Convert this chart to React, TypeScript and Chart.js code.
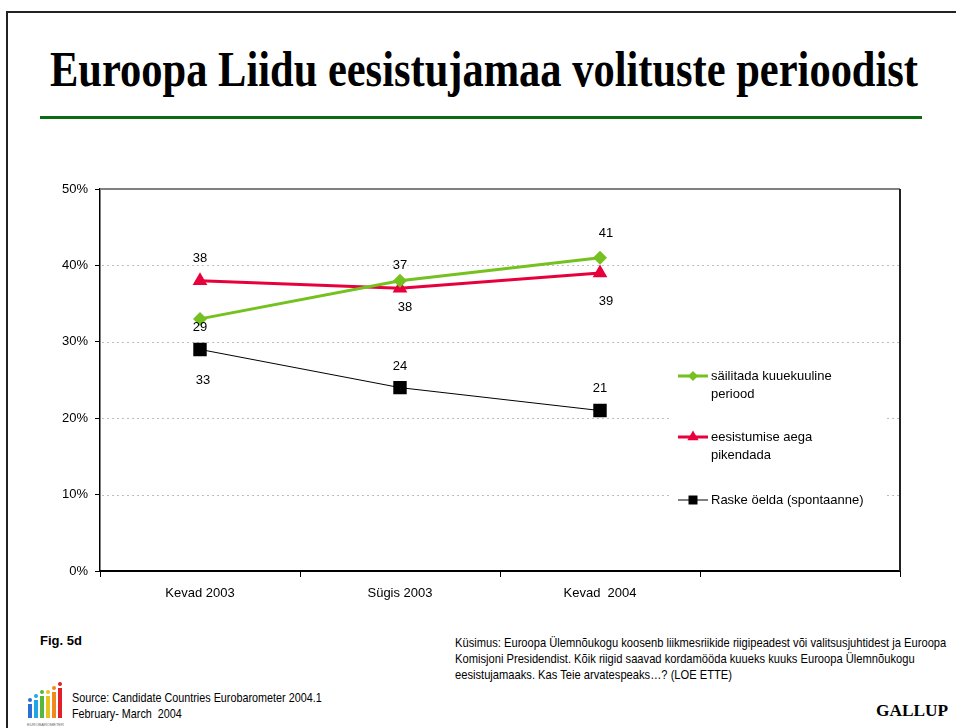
import React, { useEffect, useRef } from "react";
import { Chart, registerables } from "chart.js";

Chart.register(...registerables);

// ---------- data ----------
const categories = ["Kevad 2003", "Sügis 2003", "Kevad  2004", ""];
const keepSixMonths = [33, 38, 41];
const extendPresidency = [38, 37, 39];
const hardToSay = [29, 24, 21];
const keepLabels = ["29", "37", "41"];
const extendLabels = ["38", "38", "39"];
const hardLabels = ["33", "24", "21"];
const keepName = ["säilitada kuuekuuline", "periood"];
const extendName = ["eesistumise aega", "pikendada"];
const hardName = ["Raske öelda (spontaanne)"];
const yMin = 0;
const yMax = 50;
const yStep = 10;

const titleText = "Euroopa Liidu eesistujamaa volituste perioodist";
const questionLines = [
  "Küsimus: Euroopa Ülemnõukogu koosenb liikmesriikide riigipeadest või valitsusjuhtidest ja Euroopa",
  "Komisjoni Presidendist. Kõik riigid saavad kordamööda kuueks kuuks Euroopa Ülemnõukogu",
  "eesistujamaaks. Kas Teie arvatespeaks…? (LOE ETTE)",
];
const sourceLines = ["Source: Candidate Countries Eurobarometer 2004.1", "February- March  2004"];

// ---------- styles ----------
const GREEN = "#74c11f";
const RED = "#e8003d";
const BLACK = "#000000";
const FONT = "'Liberation Sans', Arial, sans-serif";

// label pixel offsets [dx, dy] per point
const labelOffsets = [
  [[0, 9], [0, -15], [6, -24]],
  [[0, -22], [5, 19], [6, 28]],
  [[3, 31], [0, -21], [0, -22]],
];

const CANVAS_TOP = 160;

const measure = (text: string, font: string) => {
  const c = document.createElement("canvas").getContext("2d");
  if (!c) return 1;
  c.font = font;
  return c.measureText(text).width || 1;
};

const gridPlugin = {
  id: "customGrid",
  beforeDatasetsDraw(chart: any) {
    const { ctx, chartArea } = chart;
    const y = chart.scales.y;
    ctx.save();
    ctx.lineWidth = 1;
    ctx.strokeStyle = "#bdbdbd";
    ctx.setLineDash([2, 3]);
    for (let v = yMin + yStep; v < yMax; v += yStep) {
      const py = Math.round(y.getPixelForValue(v)) + 0.5;
      ctx.beginPath();
      ctx.moveTo(chartArea.left + 2, py);
      ctx.lineTo(chartArea.right, py);
      ctx.stroke();
    }
    ctx.setLineDash([]);
    ctx.strokeStyle = "#808080";
    ctx.lineWidth = 2;
    const top = y.getPixelForValue(yMax);
    ctx.beginPath();
    ctx.moveTo(chartArea.left, top);
    ctx.lineTo(chartArea.right, top);
    ctx.stroke();
    ctx.strokeStyle = "#222";
    ctx.lineWidth = 2;
    ctx.beginPath();
    ctx.moveTo(chartArea.right, top);
    ctx.lineTo(chartArea.right, chartArea.bottom);
    ctx.stroke();
    ctx.restore();
  },
};

const drawMarker = (ctx: any, style: string, x: number, y: number, r: number, color: string) => {
  ctx.save();
  ctx.fillStyle = color;
  ctx.beginPath();
  if (style === "rectRot") {
    ctx.moveTo(x, y - r);
    ctx.lineTo(x + r, y);
    ctx.lineTo(x, y + r);
    ctx.lineTo(x - r, y);
  } else if (style === "triangle") {
    ctx.moveTo(x, y - r);
    ctx.lineTo(x + r * 0.866, y + r / 2);
    ctx.lineTo(x - r * 0.866, y + r / 2);
  } else {
    ctx.rect(x - r, y - r, 2 * r, 2 * r);
  }
  ctx.closePath();
  ctx.fill();
  ctx.restore();
};

const legendPlugin = {
  id: "customLegend",
  afterDatasetsDraw(chart: any) {
    const { ctx } = chart;
    const boxL = 672, boxT = 345 - CANVAS_TOP, boxR = 884, boxB = 525 - CANVAS_TOP;
    ctx.save();
    ctx.fillStyle = "#ffffff";
    ctx.fillRect(boxL, boxT, boxR - boxL, boxB - boxT);
    const entries = [
      { y: 376 - CANVAS_TOP, ds: 0, marker: "rectRot", r: 5, lw: 3 },
      { y: 437 - CANVAS_TOP, ds: 1, marker: "triangle", r: 6.5, lw: 3 },
      { y: 500 - CANVAS_TOP, ds: 2, marker: "rect", r: 4.5, lw: 1 },
    ];
    entries.forEach((e) => {
      const ds = chart.data.datasets[e.ds];
      ctx.strokeStyle = ds.borderColor;
      ctx.lineWidth = e.lw;
      ctx.beginPath();
      ctx.moveTo(678, e.y);
      ctx.lineTo(708, e.y);
      ctx.stroke();
      drawMarker(ctx, e.marker, 693, e.y, e.r, ds.borderColor);
      ctx.fillStyle = "#000";
      ctx.font = `13px ${FONT}`;
      ctx.textAlign = "left";
      ctx.textBaseline = "middle";
      const lines: string[] = ds.nameLines;
      lines.forEach((ln, i) => ctx.fillText(ln, 711, e.y + i * 18));
    });
    ctx.restore();
  },
};

const labelPlugin = {
  id: "pointLabels",
  afterDatasetsDraw(chart: any) {
    const { ctx } = chart;
    ctx.save();
    ctx.font = `13px ${FONT}`;
    ctx.fillStyle = "#000";
    ctx.textAlign = "center";
    ctx.textBaseline = "middle";
    chart.data.datasets.forEach((ds: any, di: number) => {
      const meta = chart.getDatasetMeta(di);
      meta.data.forEach((pt: any, i: number) => {
        const [dx, dy] = labelOffsets[di][i];
        ctx.fillText(ds.pointLabels[i], pt.x + dx, pt.y + dy);
      });
    });
    ctx.restore();
  },
};

function ChartCanvas() {
  const ref = useRef<HTMLCanvasElement | null>(null);
  useEffect(() => {
    if (!ref.current) return;
    const chart = new Chart(ref.current, {
      type: "line",
      data: {
        labels: categories,
        datasets: [
          {
            label: keepName.join(" "),
            nameLines: keepName,
            pointLabels: keepLabels,
            data: keepSixMonths,
            borderColor: GREEN,
            backgroundColor: GREEN,
            borderWidth: 3,
            pointStyle: "rectRot",
            pointRadius: 7,
            pointBorderWidth: 0,
            tension: 0,
          } as any,
          {
            label: extendName.join(" "),
            nameLines: extendName,
            pointLabels: extendLabels,
            data: extendPresidency,
            borderColor: RED,
            backgroundColor: RED,
            borderWidth: 3,
            pointStyle: "triangle",
            pointRadius: 8.5,
            pointBorderWidth: 0,
            tension: 0,
          } as any,
          {
            label: hardName.join(" "),
            nameLines: hardName,
            pointLabels: hardLabels,
            data: hardToSay,
            borderColor: BLACK,
            backgroundColor: BLACK,
            borderWidth: 1,
            pointStyle: "rect",
            pointRadius: 9.5,
            pointBorderWidth: 0,
            tension: 0,
          } as any,
        ],
      },
      options: {
        responsive: false,
        animation: false,
        devicePixelRatio: 1,
        layout: { padding: { top: 29, right: 56, left: 0, bottom: 0 } },
        plugins: { legend: { display: false }, tooltip: { enabled: false } },
        scales: {
          x: {
            type: "category",
            offset: true,
            grid: { offset: true, drawOnChartArea: false, tickLength: 6, color: "#000", lineWidth: 1 },
            border: { color: "#000", width: 2 },
            ticks: { font: { family: FONT, size: 13 }, color: "#000", padding: 9, maxRotation: 0, autoSkip: false },
            afterFit: (s: any) => { s.height = 49; },
          },
          y: {
            min: yMin,
            max: yMax,
            grid: { drawOnChartArea: false, tickLength: 5, color: "#000", lineWidth: 1 },
            border: { color: "#000", width: 1.5 },
            ticks: {
              stepSize: yStep,
              font: { family: FONT, size: 13 },
              color: "#000",
              padding: 7,
              callback: (v: any) => `${v}%`,
            },
            afterFit: (s: any) => { s.width = 100; },
          },
        },
      } as any,
      plugins: [gridPlugin, legendPlugin, labelPlugin],
    });
    return () => chart.destroy();
  }, []);
  return (
    <canvas
      ref={ref}
      width={956}
      height={460}
      style={{ position: "absolute", left: 0, top: CANVAS_TOP, width: 956, height: 460 }}
    />
  );
}

const logoBars = [
  { c: "#2a6fd6", h: 14 },
  { c: "#22a6e0", h: 18 },
  { c: "#55b83a", h: 22 },
  { c: "#e8c220", h: 22 },
  { c: "#f08a1c", h: 26 },
  { c: "#e0202a", h: 30 },
];

const SMALL_FONT = `12px ${FONT}`;

export default function App() {
  const qScale = 492 / measure(questionLines[0], SMALL_FONT);
  const sScale = 250 / measure(sourceLines[0], SMALL_FONT);
  return (
    <div style={{ position: "absolute", left: 0, top: 0, width: 956, height: 728, background: "#fff", overflow: "hidden" }}>
      {/* frame */}
      <div style={{ position: "absolute", left: 6, top: 11, width: 960, height: 2, background: "#222" }} />
      <div style={{ position: "absolute", left: 6, top: 11, width: 2, height: 730, background: "#222" }} />
      <svg width={956} height={728} style={{ position: "absolute", left: 0, top: 0 }}>
        <text
          x={50}
          y={86}
          textLength={868}
          lengthAdjust="spacingAndGlyphs"
          style={{ fontFamily: "'Liberation Serif', 'Times New Roman', serif", fontWeight: "bold", fontSize: 50 }}
        >
          {titleText}
        </text>
        <rect x={40} y={116} width={882} height={3} fill="#0b6b12" />
        <text x={40} y={645} style={{ fontFamily: FONT, fontWeight: "bold", fontSize: 13 }}>
          Fig. 5d
        </text>
        <g transform={`translate(455,0) scale(${qScale},1)`}>
          {questionLines.map((ln, i) => (
            <text key={i} x={0} y={647 + i * 16} style={{ font: SMALL_FONT, whiteSpace: "pre" }}>
              {ln}
            </text>
          ))}
        </g>
        <g transform={`translate(72,0) scale(${sScale},1)`}>
          {sourceLines.map((ln, i) => (
            <text key={i} x={0} y={702 + i * 16} style={{ font: SMALL_FONT, whiteSpace: "pre" }}>
              {ln}
            </text>
          ))}
        </g>
        <text
          x={876}
          y={716}
          textLength={72}
          lengthAdjust="spacingAndGlyphs"
          style={{ fontFamily: "'Liberation Serif', 'Times New Roman', serif", fontWeight: "bold", fontSize: 17 }}
        >
          GALLUP
        </text>
        {logoBars.map((b, i) => (
          <g key={i}>
            <rect x={28 + i * 6} y={718 - b.h} width={4} height={b.h} fill={b.c} />
            <circle cx={30 + i * 6} cy={714 - b.h} r={2} fill={b.c} />
          </g>
        ))}
        <text x={27} y={726} style={{ fontFamily: FONT, fontSize: 4, fill: "#666" }}>
          EUROBAROMETER
        </text>
      </svg>
      <ChartCanvas />
    </div>
  );
}
